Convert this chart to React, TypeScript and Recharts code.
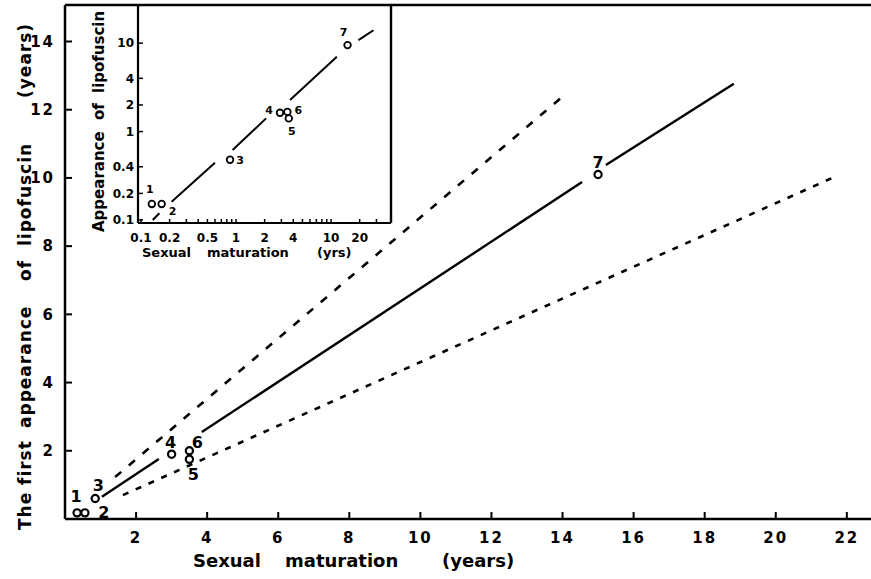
import React from 'react';
import { ComposedChart, Line, Scatter, XAxis, YAxis, ReferenceLine } from 'recharts';

const FONT = '"DejaVu Sans", sans-serif';

// main panel: age at sexual maturation vs first appearance of lipofuscin (years)
const pointNames = ['1', '2', '3', '4', '5', '6', '7'];
const maturationYears = [0.34, 0.56, 0.85, 3.0, 3.5, 3.5, 15.0];
const lipofuscinYears = [0.18, 0.18, 0.6, 1.9, 1.75, 2.0, 10.1];

const xTicks = [2, 4, 6, 8, 10, 12, 14, 16, 18, 20, 22];
const yTicks = [2, 4, 6, 8, 10, 12, 14];

// regression line is broken around the circles
const fitA = [{ x: 1.04, y: 0.65 }, { x: 2.64, y: 1.76 }];
const fitB = [{ x: 3.85, y: 2.55 }, { x: 14.55, y: 9.88 }];
const fitC = [{ x: 15.22, y: 10.38 }, { x: 18.82, y: 12.76 }];
const upperBound = [{ x: 1.41, y: 1.23 }, { x: 14.12, y: 12.49 }];
const lowerBound = [{ x: 1.63, y: 0.7 }, { x: 21.72, y: 10.06 }];

// inset: same data on log-log axes
const insetMaturation = [0.13, 0.165, 0.865, 2.9, 3.59, 3.47, 14.9];
const insetLipofuscin = [0.152, 0.152, 0.48, 1.63, 1.41, 1.67, 9.5];
const insetXTicks = [0.1, 0.2, 0.5, 1, 2, 4, 10, 20];
const insetXMinor = [0.3, 0.4, 0.6, 0.7, 0.8, 0.9, 3, 5, 6, 7, 8, 9, 30];
const insetYTicks = [0.1, 0.2, 0.4, 1, 2, 4, 10];

const insetFitA = [{ x: 0.133, y: 0.1 }, { x: 0.156, y: 0.119 }];
const insetFitB = [{ x: 0.21, y: 0.161 }, { x: 0.6, y: 0.445 }];
const insetFitC = [{ x: 0.92, y: 0.618 }, { x: 2.07, y: 1.41 }];
const insetFitD = [{ x: 3.7, y: 2.27 }, { x: 11.5, y: 7.0 }];
const insetFitE = [{ x: 19.4, y: 10.8 }, { x: 27.9, y: 14.0 }];

// where each number sits next to its circle (px)
const mainLabelOffset = [[-1, -16], [19, 0], [3, -13], [-1, -12], [4, 15], [8, -8], [0, -12]];
const insetLabelOffset = [[-2, -14], [11, 8], [10, 1], [-11, -2], [3, 13], [11, -1], [-4, -13]];

const X_MAX = 22.68;
const Y_MAX = 15.07;
const IX = [0.093, 42.7];
const IY = [0.0925, 27];

const mainPoints = maturationYears.map((x, i) => ({ x, y: lipofuscinYears[i], name: pointNames[i], i }));
const insetPoints = insetMaturation.map((x, i) => ({ x, y: insetLipofuscin[i], name: pointNames[i], i }));

const circleShape = (offsets: number[][], r: number, sw: number, fs: number) => (props: any) => {
  const { cx, cy, payload } = props;
  const [dx, dy] = offsets[payload.i];
  return (
    <g>
      <circle cx={cx} cy={cy} r={r} fill="none" stroke="#000" strokeWidth={sw} />
      <text x={cx + dx} y={cy + dy} textAnchor="middle" dominantBaseline="central"
        fontFamily={FONT} fontWeight="bold" fontSize={fs} fill="#000">{payload.name}</text>
    </g>
  );
};

function MainXTitle(props: any) {
  const vb = props.viewBox || { x: 65, y: 519 };
  return (
    <text y={vb.y + 48} fontFamily={FONT} fontWeight="bold" fontSize={18} fill="#000">
      <tspan x={vb.x + 128}>Sexual</tspan>
      <tspan x={vb.x + 220}>maturation</tspan>
      <tspan x={vb.x + 377}>(years)</tspan>
    </text>
  );
}

function MainYTitle() {
  return (
    <text transform="translate(31,0) rotate(-90)" fontFamily={FONT} fontWeight="bold"
      fontSize={17} letterSpacing={1} fill="#000">
      <tspan x={-530}>The</tspan>
      <tspan x={-485}>first</tspan>
      <tspan x={-428}>appearance</tspan>
      <tspan x={-281}>of</tspan>
      <tspan x={-246}>lipofuscin</tspan>
      <tspan x={-98}>(years)</tspan>
    </text>
  );
}

function InsetXTitle(props: any) {
  const vb = props.viewBox || { x: 138, y: 223 };
  return (
    <text y={vb.y + 34} fontFamily={FONT} fontWeight="bold" fontSize={13} fill="#000">
      <tspan x={vb.x + 4}>Sexual</tspan>
      <tspan x={vb.x + 69}>maturation</tspan>
      <tspan x={vb.x + 179}>(yrs)</tspan>
    </text>
  );
}

function InsetYTitle() {
  return (
    <text transform="translate(104,0) rotate(-90)" fontFamily={FONT} fontWeight="bold"
      fontSize={15} fill="#000">
      <tspan x={-232}>Appearance</tspan>
      <tspan x={-120}>of</tspan>
      <tspan x={-93}>lipofuscin</tspan>
    </text>
  );
}

function InsetXTick(props: any) {
  const { x, y, payload } = props;
  if (!insetXTicks.includes(payload.value)) return null;
  return (
    <text x={x} y={y} dy="0.71em" textAnchor="middle" fontFamily={FONT} fontWeight="bold"
      fontSize={12} fill="#000">{payload.value}</text>
  );
}

const lineProps = {
  dataKey: 'y',
  type: 'linear' as const,
  dot: false,
  activeDot: false,
  stroke: '#000',
  isAnimationActive: false,
  legendType: 'none' as const,
};

export default function App() {
  const tickFont = { fill: '#000', fontSize: 15, fontFamily: FONT, fontWeight: 'bold', letterSpacing: 2 };
  return (
    <div style={{ position: 'absolute', left: 0, top: 0, width: 871, height: 579, background: '#fff' }}>
      <ComposedChart width={871} height={579} margin={{ top: 5, right: 0, bottom: 0, left: 0 }}>
        <XAxis dataKey="x" type="number" domain={[0, X_MAX]} allowDataOverflow ticks={xTicks} interval={0}
          height={60} tickSize={-7} tickMargin={20} tick={tickFont}
          axisLine={{ stroke: '#000', strokeWidth: 2.5 }} tickLine={{ stroke: '#000', strokeWidth: 2 }}
          label={<MainXTitle />} />
        <YAxis dataKey="y" type="number" domain={[0, Y_MAX]} allowDataOverflow ticks={yTicks} interval={0}
          width={65} tickSize={-7} tickMargin={17} tick={tickFont}
          axisLine={{ stroke: '#000', strokeWidth: 2.5 }} tickLine={{ stroke: '#000', strokeWidth: 2 }}
          label={<MainYTitle />} />
        <ReferenceLine y={Y_MAX} stroke="#000" strokeWidth={2.5} ifOverflow="visible" />
        <Line {...lineProps} data={fitA} strokeWidth={2.4} />
        <Line {...lineProps} data={fitB} strokeWidth={2.4} />
        <Line {...lineProps} data={fitC} strokeWidth={2.4} />
        <Line {...lineProps} data={upperBound} strokeWidth={2.6} strokeDasharray="8 10" />
        <Line {...lineProps} data={lowerBound} strokeWidth={2.6} strokeDasharray="6 8" />
        <Scatter data={mainPoints} dataKey="y" isAnimationActive={false} legendType="none"
          shape={circleShape(mainLabelOffset, 3.6, 2.2, 16)} />
      </ComposedChart>

      <div style={{ position: 'absolute', left: 0, top: 0 }}>
        <ComposedChart width={400} height={270} margin={{ top: 5, right: 9, bottom: 7, left: 0 }}>
          <XAxis dataKey="x" type="number" scale="log" domain={IX} allowDataOverflow
            ticks={[...insetXTicks, ...insetXMinor]} interval={0} height={40}
            tickSize={-4} tickMargin={14} tick={<InsetXTick />}
            axisLine={{ stroke: '#000', strokeWidth: 2.2 }} tickLine={{ stroke: '#000', strokeWidth: 1.5 }}
            label={<InsetXTitle />} />
          <YAxis dataKey="y" type="number" scale="log" domain={IY} allowDataOverflow
            ticks={insetYTicks} interval={0} width={138} tickSize={-5} tickMargin={9}
            tick={{ fill: '#000', fontSize: 12, fontFamily: FONT, fontWeight: 'bold' }}
            axisLine={{ stroke: '#000', strokeWidth: 2.2 }} tickLine={{ stroke: '#000', strokeWidth: 1.5 }}
            label={<InsetYTitle />} />
          <ReferenceLine x={IX[1]} stroke="#000" strokeWidth={2.4} ifOverflow="visible" />
          <Line {...lineProps} data={insetFitA} strokeWidth={2} />
          <Line {...lineProps} data={insetFitB} strokeWidth={2} />
          <Line {...lineProps} data={insetFitC} strokeWidth={2} />
          <Line {...lineProps} data={insetFitD} strokeWidth={2} />
          <Line {...lineProps} data={insetFitE} strokeWidth={2} />
          <Scatter data={insetPoints} dataKey="y" isAnimationActive={false} legendType="none"
            shape={circleShape(insetLabelOffset, 3.3, 1.8, 11)} />
        </ComposedChart>
      </div>
    </div>
  );
}
